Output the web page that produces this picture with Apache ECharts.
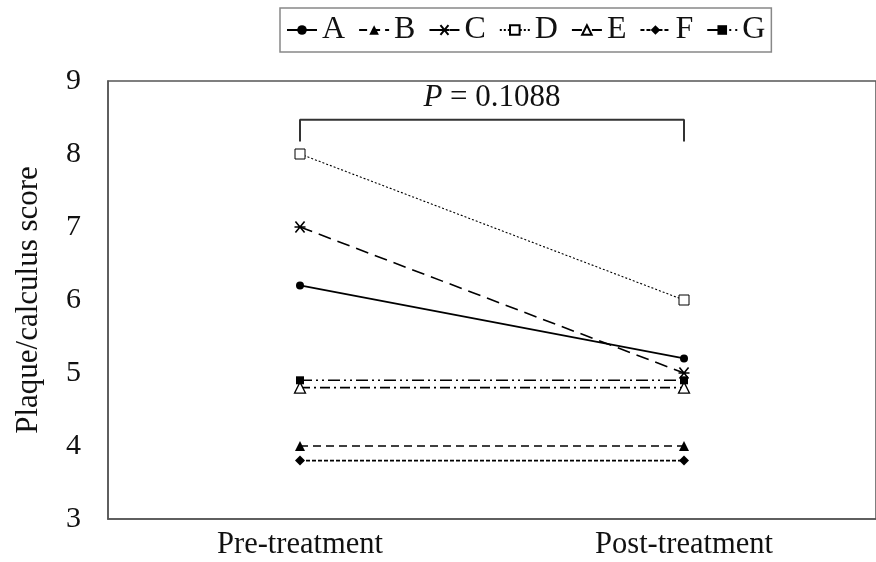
<!DOCTYPE html>
<html><head><meta charset="utf-8">
<script src="https://cdn.jsdelivr.net/npm/echarts@6/dist/echarts.min.js"></script>
<style>html,body{margin:0;padding:0;background:#fff}#c{width:876px;height:562px}</style>
</head><body><div id="c"></div>
<script>
const categories = ['Pre-treatment', 'Post-treatment'];
const seriesNames = ['A', 'B', 'C', 'D', 'E', 'F', 'G'];
const A = [6.2, 5.2];
const B = [4.0, 4.0];
const C = [7.0, 5.0];
const D = [8.0, 6.0];
const E = [4.8, 4.8];
const F = [3.8, 3.8];
const G = [4.9, 4.9];
const yTicks = [3, 4, 5, 6, 7, 8, 9];
const bracketLow = 8.17, bracketHigh = 8.47, pLabelValue = 8.77;
const pText = '0.1088';

const FONT = '"Liberation Serif", "Times New Roman", serif';
const values = {A, B, C, D, E, F, G};
const styles = {
  A: {symbol: 'circle', size: 8, fill: '#000', dash: 'solid', w: 1.6},
  B: {symbol: 'triangle', size: 10, fill: '#000', dash: [8, 5], w: 1.6},
  C: {symbol: 'path://M-5,-5L5,5M-5,5L5,-5M-6,0L6,0', size: 11, fill: '#000', dash: [13, 7], w: 1.6, stroke: 1.6},
  D: {symbol: 'rect', size: 10, fill: '#fff', dash: [2, 2], w: 1.1, stroke: 1},
  E: {symbol: 'triangle', size: 11, fill: '#fff', dash: [10, 4, 2, 4], w: 1.6, stroke: 1.3},
  F: {symbol: 'diamond', size: 10, fill: '#000', dash: [4, 2], w: 1.6},
  G: {symbol: 'rect', size: 8, fill: '#000', dash: [12, 4, 2, 4, 2, 4], w: 1.6}
};

const series = seriesNames.map(n => {
  const s = styles[n];
  return {
    name: n, type: 'line', data: values[n],
    symbol: s.symbol, symbolSize: s.size, showSymbol: true,
    lineStyle: {color: '#000', width: s.w, type: s.dash},
    itemStyle: {color: s.fill, borderColor: '#000', borderWidth: s.stroke || 0},
    emphasis: {disabled: true}, animation: false, z: 3
  };
});
series.push({
  name: 'bracket', type: 'line',
  data: [[0, bracketLow], [0, bracketHigh], [1, bracketHigh], [1, bracketLow]],
  symbol: 'none', lineStyle: {color: '#333', width: 2}, animation: false, silent: true
});

const chart = echarts.init(document.getElementById('c'), null, {renderer: 'canvas'});
chart.setOption({
  backgroundColor: '#fff',
  animation: false,
  grid: {left: 108, top: 81, width: 776, height: 438, show: true, borderColor: '#555', borderWidth: 1.5},
  legend: {
    data: seriesNames, left: 280, top: 8, width: 485, height: 48,
    borderColor: '#888', borderWidth: 1.5, padding: [6, 6, 6, 6],
    itemWidth: 30, itemHeight: 12, itemGap: 13,
    textStyle: {fontFamily: FONT, fontSize: 32, color: '#111'},
    selectedMode: false
  },
  xAxis: {
    type: 'category', data: categories, boundaryGap: true,
    axisLine: {show: true, lineStyle: {color: '#555', width: 1.5}},
    axisTick: {show: false},
    axisLabel: {fontFamily: FONT, fontSize: 30.5, color: '#111', margin: 10},
    splitLine: {show: false}
  },
  yAxis: {
    type: 'value', min: yTicks[0], max: yTicks[yTicks.length - 1], interval: 1,
    name: 'Plaque/calculus score', nameLocation: 'middle', nameGap: 64,
    nameTextStyle: {fontFamily: FONT, fontSize: 31, color: '#111'},
    axisLine: {show: true, lineStyle: {color: '#555', width: 1.5}},
    axisTick: {show: false},
    axisLabel: {fontFamily: FONT, fontSize: 30, color: '#111', margin: 27},
    splitLine: {show: false}
  },
  series: series
});

const p0 = chart.convertToPixel({gridIndex: 0}, [0, pLabelValue]);
const p1 = chart.convertToPixel({gridIndex: 0}, [1, pLabelValue]);
chart.setOption({
  graphic: [{
    type: 'text', x: (p0[0] + p1[0]) / 2, y: p0[1],
    style: {
      text: '{i|P} = ' + pText,
      rich: {i: {fontStyle: 'italic', fontFamily: FONT, fontSize: 31, fill: '#111'}},
      font: '31px ' + FONT, fill: '#111', align: 'center', verticalAlign: 'middle'
    }
  }]
});
</script></body></html>
